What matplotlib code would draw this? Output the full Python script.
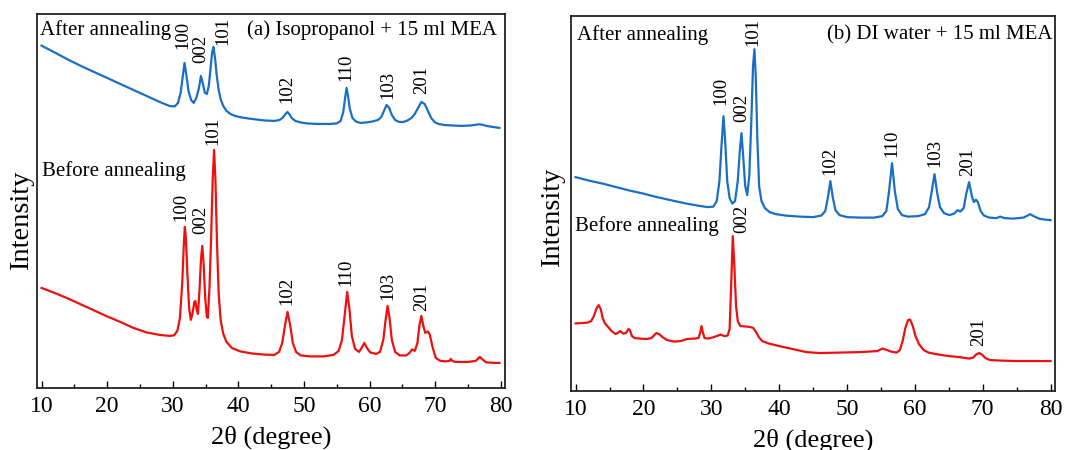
import matplotlib
matplotlib.use('Agg')
import matplotlib.pyplot as plt
from matplotlib.ticker import MultipleLocator

plt.rcParams['font.family'] = ['Liberation Serif', 'DejaVu Serif']

BLUE = '#1a6fc4'
RED = '#ee1010'

# panel (a) Isopropanol + 15 ml MEA, after annealing: (2theta, intensity a.u.)
a_after = [(10, 342.3), (12, 335.5), (14, 328.5), (16, 322), (18, 316), (20, 310), (22, 304), (24, 298),
           (26, 292), (28, 286), (29.5, 282), (30.3, 281.5), (30.8, 285), (31.2, 295), (31.5, 310),
           (31.8, 325), (32.1, 312), (32.4, 297), (32.8, 288), (33.2, 285), (33.6, 290), (34.0, 300),
           (34.3, 312), (34.6, 304), (34.9, 295), (35.2, 294), (35.5, 302), (35.8, 322), (36.0, 335),
           (36.2, 341), (36.45, 330), (36.7, 313), (37.0, 298), (37.3, 289), (37.7, 282), (38.2, 277),
           (38.8, 274), (39.5, 272), (40.5, 270.5), (42, 269), (44, 267.5), (45.5, 267), (46.3, 268),
           (46.8, 270.5), (47.2, 274), (47.5, 276), (47.8, 273.5), (48.2, 269.5), (48.7, 267),
           (49.5, 265.5), (50.5, 264.5), (52, 264), (54, 264), (55.0, 264.5), (55.6, 267), (56.0, 276),
           (56.3, 291), (56.5, 300), (56.7, 293), (57.0, 279), (57.4, 270), (57.9, 266.5), (58.6, 265),
           (59.5, 265.5), (60.5, 266.5), (61.3, 268), (61.8, 271), (62.2, 277), (62.6, 283), (63.0, 280),
           (63.4, 273), (63.9, 268), (64.5, 266), (65.2, 266), (65.8, 267.5), (66.4, 270), (66.9, 274),
           (67.4, 280), (67.9, 286), (68.4, 284), (68.9, 277), (69.4, 270), (69.9, 266), (70.5, 264),
           (71.3, 263), (72.5, 262.5), (74, 262), (75.5, 262.5), (76.3, 263.3), (76.8, 263.7),
           (77.3, 263), (78, 261.8), (79, 260.8), (79.8, 260)]

# panel (a), before annealing
a_before = [(10, 100), (12, 95), (14, 89.5), (16, 83.5), (18, 77.5), (20, 71.5), (22, 66), (24, 60),
            (26, 55.5), (28, 53), (29.5, 52), (30.2, 52.5), (30.7, 57), (31.1, 70), (31.45, 105),
            (31.7, 145), (31.85, 161), (32.0, 150), (32.25, 112), (32.5, 80), (32.75, 68), (33.0, 74),
            (33.3, 86), (33.45, 87), (33.65, 78), (33.85, 74), (34.1, 100), (34.3, 128), (34.5, 142),
            (34.7, 125), (34.95, 90), (35.2, 71), (35.35, 70), (35.6, 100), (35.85, 150), (36.1, 210),
            (36.3, 238), (36.5, 210), (36.75, 145), (37.0, 95), (37.3, 68), (37.7, 54), (38.2, 46),
            (39, 40), (40.3, 36.5), (42, 34.5), (44, 33.3), (45.5, 33), (46.2, 36), (46.7, 45),
            (47.1, 62), (47.5, 76), (47.9, 63), (48.3, 45), (48.8, 36), (49.5, 32.5), (51, 31.5),
            (53, 31.5), (54.5, 33), (55.3, 37), (55.8, 48), (56.2, 72), (56.6, 96), (56.95, 78),
            (57.3, 52), (57.8, 39), (58.4, 36), (58.9, 41), (59.2, 45), (59.6, 40), (60.1, 35.5),
            (61, 34), (61.6, 36), (62.1, 48), (62.45, 68), (62.75, 82), (63.05, 70), (63.4, 48),
            (63.9, 36), (64.6, 32.5), (65.6, 32.5), (66.1, 35), (66.5, 38.5), (66.9, 37), (67.3, 45),
            (67.6, 62), (67.9, 72), (68.2, 62), (68.5, 55), (68.9, 56.5), (69.2, 53), (69.6, 41),
            (70.1, 30), (70.8, 27), (71.6, 26.5), (72.2, 27), (72.4, 29), (72.6, 27), (73.1, 26),
            (75, 26), (76.2, 27), (76.8, 31), (77.3, 28), (77.8, 25.5), (79, 25), (79.8, 25)]

# panel (b) DI water + 15 ml MEA, after annealing
b_after = [(10, 214), (12, 210.5), (14, 207.5), (16, 204), (18, 200.5), (20, 197.5), (22, 194), (24, 191),
           (26, 188), (28, 185.5), (29.5, 184), (30.3, 184.5), (30.8, 190), (31.2, 210), (31.5, 245),
           (31.8, 275), (32.05, 250), (32.35, 210), (32.7, 193), (33.1, 187.5), (33.5, 190), (33.9, 210),
           (34.2, 240), (34.45, 258), (34.7, 235), (35.0, 205), (35.3, 196), (35.6, 215), (35.9, 270),
           (36.15, 325), (36.36, 342), (36.55, 315), (36.8, 250), (37.05, 205), (37.4, 190), (37.9, 183),
           (38.6, 179), (39.5, 177), (41, 175.5), (43, 174.5), (45, 174), (46.2, 175.5), (46.8, 180),
           (47.2, 194), (47.55, 210), (47.9, 194), (48.3, 181), (48.9, 176), (50, 174), (52, 173.5),
           (54, 173.5), (55.2, 175), (55.8, 180), (56.2, 200), (56.64, 228), (57.05, 200), (57.5, 182),
           (58.1, 176), (59, 174.5), (60.5, 175), (61.5, 177), (62.1, 184), (62.5, 200), (62.9, 217),
           (63.3, 198), (63.7, 184), (64.3, 178), (65.1, 176), (65.8, 177.5), (66.3, 181), (66.7, 179.5),
           (67.2, 183), (67.6, 198), (68.0, 209), (68.4, 195), (68.7, 189), (69.0, 191.5), (69.3, 189),
           (69.7, 180), (70.2, 175.5), (71, 173.5), (72, 173), (72.6, 174.5), (73.2, 173), (74.5, 172.5),
           (76, 173.5), (76.6, 175.5), (77.0, 177), (77.5, 175), (78.3, 172.5), (79.2, 171.5), (80, 171)]

# panel (b), before annealing
b_before = [(10, 67.7), (11, 68), (11.8, 68.5), (12.3, 70), (12.7, 75), (13.1, 83), (13.4, 86), (13.7, 82),
            (14.0, 73), (14.3, 68), (14.8, 64), (15.3, 60), (15.9, 57), (16.3, 58.5), (16.6, 60),
            (17.0, 57.5), (17.4, 58), (17.8, 62), (18.0, 61), (18.3, 55), (18.7, 53), (19.5, 52.5),
            (20.5, 52), (21.2, 53), (21.6, 56), (21.9, 58), (22.3, 57), (22.8, 54), (23.5, 51),
            (24.5, 49.5), (25.5, 50), (26.4, 52), (27.5, 52.5), (28.1, 53), (28.35, 58), (28.55, 65),
            (28.75, 59), (29.0, 53), (29.6, 52.5), (30.4, 54), (31.0, 55.5), (31.4, 56.5), (31.9, 55),
            (32.4, 55.5), (32.7, 62), (32.95, 110), (33.17, 155), (33.4, 125), (33.65, 85), (33.9, 70),
            (34.3, 65), (35.2, 64.5), (35.8, 64), (36.2, 63), (36.6, 59), (37.0, 54), (37.5, 50),
            (38.5, 47.5), (40, 45), (42, 42), (44, 39), (46, 38), (49, 38.5), (52, 39), (54.5, 40),
            (55.2, 42.5), (55.7, 41.5), (56.5, 39.5), (57.3, 38.5), (57.8, 41), (58.2, 50), (58.6, 63),
            (59.0, 71), (59.3, 71.5), (59.7, 65), (60.1, 55), (60.6, 47), (61.3, 41), (62, 38.5),
            (63.5, 36.5), (65, 35), (66.5, 34), (68.0, 32.5), (68.6, 33.5), (69.1, 37), (69.5, 38),
            (69.9, 36.5), (70.4, 33), (71.1, 31), (72.5, 30.5), (75, 30), (80, 30)]

# (hkl) labels: name, 2theta, height
a_after_hkl = ['100', '002', '101', '102', '110', '103', '201']
a_after_hkl_x = [31.5, 34.3, 37.6, 47.4, 56.4, 62.8, 67.9]
a_after_hkl_y = [353, 339, 357, 299, 321, 303, 308]

a_before_hkl = ['100', '002', '101', '102', '110', '103', '201']
a_before_hkl_x = [31.3, 34.3, 36.1, 47.4, 56.4, 62.8, 67.9]
a_before_hkl_y = [181, 168, 257, 97, 116, 102, 91]

b_after_hkl = ['100', '002', '101', '102', '110', '103', '201']
b_after_hkl_x = [31.35, 34.45, 36.2, 47.55, 56.6, 62.9, 67.8]
b_after_hkl_y = [300, 283, 359, 230, 248, 238, 229]

b_before_hkl = ['002', '201']
b_before_hkl_x = [34.55, 69.4]
b_before_hkl_y = [172, 59]


def style_axes(ax, ymax, label_x, label_y):
    ax.set_xlim(9.3, 80.65)
    ax.set_ylim(0, ymax)
    ax.set_yticks([])
    ax.xaxis.set_major_locator(MultipleLocator(10))
    ax.xaxis.set_minor_locator(MultipleLocator(5))
    ax.tick_params(axis='x', which='major', direction='in', length=5, width=1.0,
                   labelsize=17, pad=6, top=False)
    ax.tick_params(axis='x', which='minor', direction='in', length=3, width=1.0, top=False)
    for s in ax.spines.values():
        s.set_linewidth(1.3)
        s.set_color('#222222')
    ax.set_xlabel('2θ (degree)', fontsize=19)
    ax.xaxis.set_label_coords(0.5, -0.10)
    ax.set_ylabel('Intensity', fontsize=20.5)
    ax.yaxis.set_label_coords(label_x, label_y)


def put_hkl(ax, names, xs, ys):
    for n, x, y in zip(names, xs, ys):
        ax.text(x, y, n, rotation=90, ha='center', va='center', fontsize=13.5)


def plot_curve(ax, pts, color):
    x, y = zip(*pts)
    ax.plot(x, y, color=color, lw=1.6, solid_joinstyle='round')


def main():
    fig = plt.figure(figsize=(10.71, 4.5), dpi=100)
    ax1 = fig.add_axes([0.0345, 0.138, 0.437, 0.831])
    ax2 = fig.add_axes([0.533, 0.131, 0.452, 0.833])

    # (a)
    plot_curve(ax1, a_after, BLUE)
    plot_curve(ax1, a_before, RED)
    put_hkl(ax1, a_after_hkl, a_after_hkl_x, a_after_hkl_y)
    put_hkl(ax1, a_before_hkl, a_before_hkl_x, a_before_hkl_y)
    ax1.text(9.7, 358, 'After annealing', fontsize=15, ha='left', va='center')
    ax1.text(79.5, 358, '(a) Isopropanol + 15 ml MEA', fontsize=15, ha='right', va='center')
    ax1.text(10.0, 217, 'Before annealing', fontsize=15, ha='left', va='center')
    style_axes(ax1, 374, -0.007, 0.447)

    # (b)
    plot_curve(ax2, b_after, BLUE)
    plot_curve(ax2, b_before, RED)
    put_hkl(ax2, b_after_hkl, b_after_hkl_x, b_after_hkl_y)
    put_hkl(ax2, b_before_hkl, b_before_hkl_x, b_before_hkl_y)
    ax2.text(10.15, 356, 'After annealing', fontsize=15, ha='left', va='center')
    ax2.text(80.25, 356, '(b) DI water + 15 ml MEA', fontsize=15, ha='right', va='center')
    ax2.text(9.85, 165, 'Before annealing', fontsize=15, ha='left', va='center')
    style_axes(ax2, 375, -0.012, 0.464)

    fig.savefig('out.png', dpi=100)


if __name__ == '__main__':
    main()
